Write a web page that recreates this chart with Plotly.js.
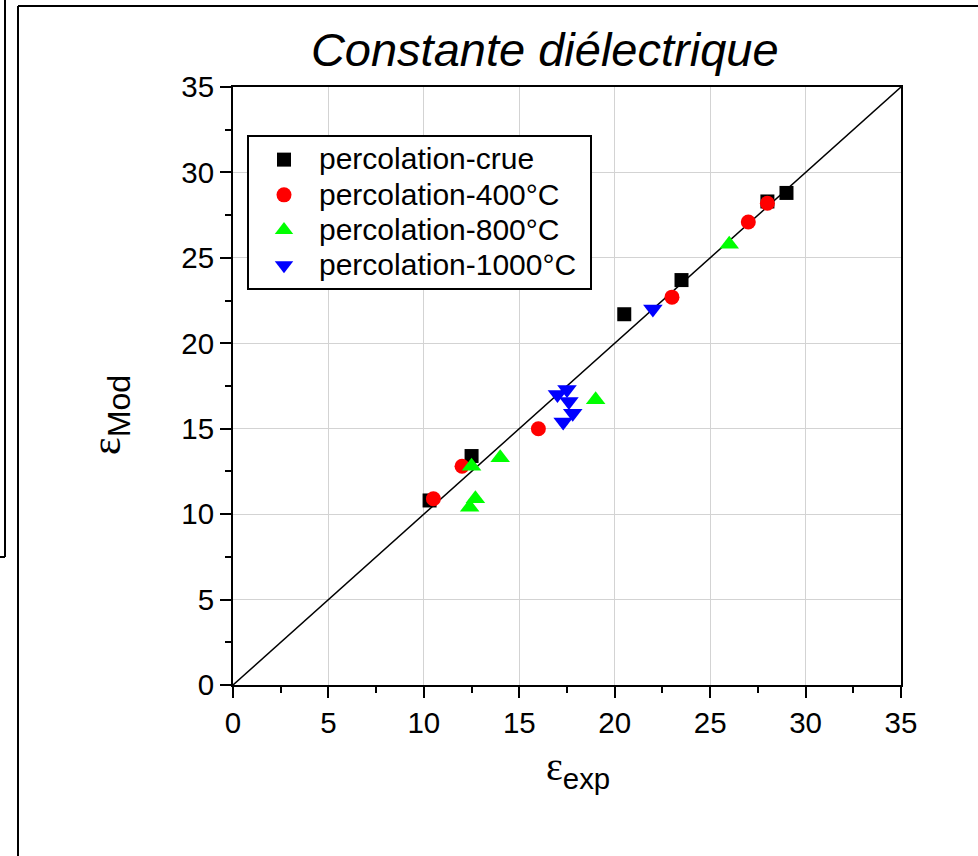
<!DOCTYPE html>
<html>
<head>
<meta charset="utf-8">
<script src="https://cdn.plot.ly/plotly-3.0.1.min.js"></script>
<style>html,body{margin:0;padding:0;background:#fff;}#chart{width:978px;height:856px;}</style>
</head>
<body>
<div id="chart"></div>
<script>
// Data
const crueX = [10.3, 12.5, 20.5, 23.5, 28.0, 29.0];
const crueY = [10.8, 13.4, 21.7, 23.7, 28.3, 28.8];
const c400X = [10.5, 12.0, 16.0, 23.0, 27.0, 28.0];
const c400Y = [10.9, 12.8, 15.0, 22.7, 27.1, 28.2];
const c800X = [12.4, 12.7, 12.5, 14.0, 19.0, 26.0];
const c800Y = [10.4, 10.9, 12.8, 13.3, 16.7, 25.8];
const c1000X = [17.0, 17.5, 17.6, 17.8, 17.3, 22.0];
const c1000Y = [17.0, 17.3, 16.6, 15.9, 15.4, 22.0];
const diagX = [0, 35];
const diagY = [0, 35];
const seriesNames = ['percolation-crue', 'percolation-400°C', 'percolation-800°C', 'percolation-1000°C'];
const tickVals = [0, 5, 10, 15, 20, 25, 30, 35];

const FONT = 'Liberation Sans, Arial, sans-serif';
const lbl = s => '<span style="font-size:30px">' + s + '&nbsp;</span>';

const traces = [
  {x: diagX, y: diagY, mode: 'lines', line: {color: '#000', width: 1.5}, showlegend: false, hoverinfo: 'skip'},
  {x: crueX, y: crueY, mode: 'markers', name: lbl(seriesNames[0]), marker: {symbol: 'square', size: 14, color: '#000'}},
  {x: c400X, y: c400Y, mode: 'markers', name: lbl(seriesNames[1]), marker: {symbol: 'circle', size: 15, color: '#ff0000'}},
  {x: c800X, y: c800Y, mode: 'markers', name: lbl(seriesNames[2]), marker: {symbol: 'triangle-up', size: 17, color: '#00ff00'}},
  {x: c1000X, y: c1000Y, mode: 'markers', name: lbl(seriesNames[3]), marker: {symbol: 'triangle-down', size: 17, color: '#0000ff'}}
];

const axisCommon = {
  range: [0, 35],
  tickvals: tickVals,
  ticktext: tickVals.map(String),
  ticks: 'outside',
  ticklen: 11,
  tickwidth: 2,
  tickcolor: '#000',
  showline: true,
  linewidth: 2,
  linecolor: '#000',
  mirror: true,
  showgrid: true,
  gridcolor: '#d3d3d3',
  gridwidth: 1,
  zeroline: false,
  tickfont: {family: FONT, size: 29.5, color: '#000'},
  minor: {dtick: 2.5, tick0: 0, ticks: 'outside', ticklen: 6, tickwidth: 2, tickcolor: '#000', showgrid: false}
};

function px(x) { return (x - 233) / 668; }
function py(y) { return (685 - y) / 598; }
const frameLine = {color: '#000', width: 2};

const layout = {
  width: 978,
  height: 856,
  margin: {l: 233, r: 77, t: 87, b: 171},
  paper_bgcolor: '#fff',
  plot_bgcolor: '#fff',
  font: {family: FONT, color: '#000'},
  title: {
    text: '<i>Constante diélectrique</i>',
    font: {family: FONT, size: 47, color: '#000'},
    xref: 'container', yref: 'container',
    x: 0.557, xanchor: 'center',
    y: 1 - 50 / 856, yanchor: 'middle'
  },
  xaxis: Object.assign({}, axisCommon),
  yaxis: Object.assign({}, axisCommon),
  annotations: [
    {
      text: '<span style="font-family:Liberation Serif;font-size:40px">ε</span><sub>exp</sub>',
      xref: 'paper', yref: 'paper', x: px(578), y: py(769),
      xanchor: 'center', yanchor: 'middle', showarrow: false,
      font: {family: FONT, size: 42, color: '#000'}
    },
    {
      text: '<span style="font-family:Liberation Serif;font-size:42px">ε</span><sub>Mod</sub>',
      xref: 'paper', yref: 'paper', x: px(110), y: py(415),
      xanchor: 'center', yanchor: 'middle', showarrow: false, textangle: -90,
      font: {family: FONT, size: 46, color: '#000'}
    }
  ],
  legend: {
    x: px(247), y: py(135), xanchor: 'left', yanchor: 'top',
    bgcolor: '#fff', bordercolor: '#000', borderwidth: 2,
    font: {family: FONT, size: 24.8, color: '#000'},
    itemwidth: 60,
    tracegroupgap: 0
  },
  shapes: [
    {type: 'line', xref: 'paper', yref: 'paper', x0: px(18), x1: px(18), y0: py(6), y1: py(860), line: frameLine},
    {type: 'line', xref: 'paper', yref: 'paper', x0: px(18), x1: px(980), y0: py(6), y1: py(6), line: frameLine},
    {type: 'line', xref: 'paper', yref: 'paper', x0: px(5), x1: px(5), y0: py(-2), y1: py(557), line: frameLine},
    {type: 'line', xref: 'paper', yref: 'paper', x0: px(-2), x1: px(5), y0: py(557), y1: py(557), line: frameLine}
  ],
  showlegend: true
};

Plotly.newPlot('chart', traces, layout, {displayModeBar: false, staticPlot: true});
</script>
</body>
</html>
